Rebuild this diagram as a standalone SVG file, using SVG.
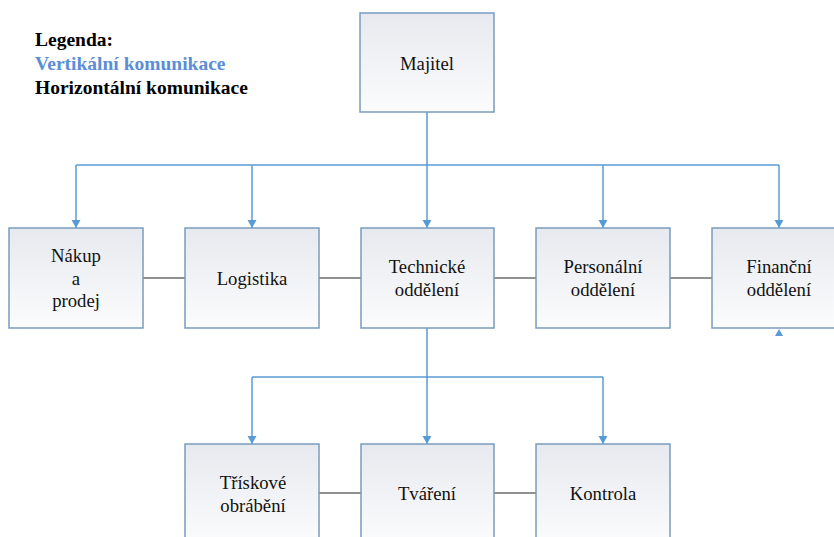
<svg xmlns="http://www.w3.org/2000/svg" width="834" height="537" viewBox="0 0 834 537">
<defs>
<linearGradient id="g" x1="0" y1="0" x2="0" y2="1">
<stop offset="0" stop-color="#E6E9EE"/>
<stop offset="1" stop-color="#FCFCFD"/>
</linearGradient>
<marker id="arr" markerWidth="10" markerHeight="10" refX="8" refY="4.5" orient="auto" markerUnits="userSpaceOnUse">
<path d="M0,0 L8,4.5 L0,9 Z" fill="#5B9BD5"/>
</marker>
</defs>
<style>
.box{fill:url(#g);stroke:#7A9CC0;stroke-width:1.5}
.v{fill:none;stroke:#5B9BD5;stroke-width:1.5}
.h{fill:none;stroke:#222;stroke-width:1}
</style>
<rect width="834" height="537" fill="#fff"/>
<g id="legend">
<text x="35" y="46" style="font-family:'Liberation Serif','Times New Roman',serif;font-size:19.5px;font-weight:bold;fill:#000">Legenda:</text>
<text x="35" y="70" style="font-family:'Liberation Serif','Times New Roman',serif;font-size:19.5px;font-weight:bold;fill:#5B8ED6">Vertikální komunikace</text>
<text x="35" y="94" style="font-family:'Liberation Serif','Times New Roman',serif;font-size:19.5px;font-weight:bold;fill:#000">Horizontální komunikace</text>
</g>
<g id="connectors">
<path class="v" d="M427,112 V165 M76,165 H779"/>
<path class="v" marker-end="url(#arr)" d="M76,165 V228"/>
<path class="v" marker-end="url(#arr)" d="M252,165 V228"/>
<path class="v" marker-end="url(#arr)" d="M427,165 V228"/>
<path class="v" marker-end="url(#arr)" d="M603,165 V228"/>
<path class="v" marker-end="url(#arr)" d="M779,165 V228"/>
<path class="v" d="M427,328 V377 M252,377 H603"/>
<path class="v" marker-end="url(#arr)" d="M252,377 V444"/>
<path class="v" marker-end="url(#arr)" d="M427,377 V444"/>
<path class="v" marker-end="url(#arr)" d="M603,377 V444"/>
<path d="M775,336 L779,329 L783,336 Z" fill="#5B9BD5"/>
<path class="h" d="M143,278 H185 M319,278 H361 M494,278 H536 M670,278 H712"/>
<path class="h" d="M319,493 H361 M494,493 H536"/>
</g>
<g id="majitel"><rect class="box" x="360" y="13" width="134" height="99"/><text x="427" y="70" style="font-family:'Liberation Serif','Times New Roman',serif;font-size:18.7px;fill:#111;text-anchor:middle">Majitel</text></g>
<g id="nakup"><rect class="box" x="9" y="228" width="134" height="100"/><text x="76" y="262" style="font-family:'Liberation Serif','Times New Roman',serif;font-size:18.7px;fill:#111;text-anchor:middle">Nákup</text><text x="76" y="285" style="font-family:'Liberation Serif','Times New Roman',serif;font-size:18.7px;fill:#111;text-anchor:middle">a</text><text x="76" y="307" style="font-family:'Liberation Serif','Times New Roman',serif;font-size:18.7px;fill:#111;text-anchor:middle">prodej</text></g>
<g id="logistika"><rect class="box" x="185" y="228" width="134" height="100"/><text x="252" y="285" style="font-family:'Liberation Serif','Times New Roman',serif;font-size:18.7px;fill:#111;text-anchor:middle">Logistika</text></g>
<g id="technicke"><rect class="box" x="361" y="228" width="133" height="100"/><text x="427" y="273" style="font-family:'Liberation Serif','Times New Roman',serif;font-size:18.7px;fill:#111;text-anchor:middle">Technické</text><text x="427" y="296" style="font-family:'Liberation Serif','Times New Roman',serif;font-size:18.7px;fill:#111;text-anchor:middle">oddělení</text></g>
<g id="personalni"><rect class="box" x="536" y="228" width="134" height="100"/><text x="603" y="273" style="font-family:'Liberation Serif','Times New Roman',serif;font-size:18.7px;fill:#111;text-anchor:middle">Personální</text><text x="603" y="296" style="font-family:'Liberation Serif','Times New Roman',serif;font-size:18.7px;fill:#111;text-anchor:middle">oddělení</text></g>
<g id="financni"><rect class="box" x="712" y="228" width="134" height="100"/><text x="779" y="273" style="font-family:'Liberation Serif','Times New Roman',serif;font-size:18.7px;fill:#111;text-anchor:middle">Finanční</text><text x="779" y="296" style="font-family:'Liberation Serif','Times New Roman',serif;font-size:18.7px;fill:#111;text-anchor:middle">oddělení</text></g>
<g id="triskove"><rect class="box" x="185" y="444" width="134" height="100"/><text x="253" y="489" style="font-family:'Liberation Serif','Times New Roman',serif;font-size:18.7px;fill:#111;text-anchor:middle">Třískové</text><text x="253" y="512" style="font-family:'Liberation Serif','Times New Roman',serif;font-size:18.7px;fill:#111;text-anchor:middle">obrábění</text></g>
<g id="tvareni"><rect class="box" x="361" y="444" width="133" height="100"/><text x="427" y="500" style="font-family:'Liberation Serif','Times New Roman',serif;font-size:18.7px;fill:#111;text-anchor:middle">Tváření</text></g>
<g id="kontrola"><rect class="box" x="536" y="444" width="134" height="100"/><text x="603" y="500" style="font-family:'Liberation Serif','Times New Roman',serif;font-size:18.7px;fill:#111;text-anchor:middle">Kontrola</text></g>
</svg>
